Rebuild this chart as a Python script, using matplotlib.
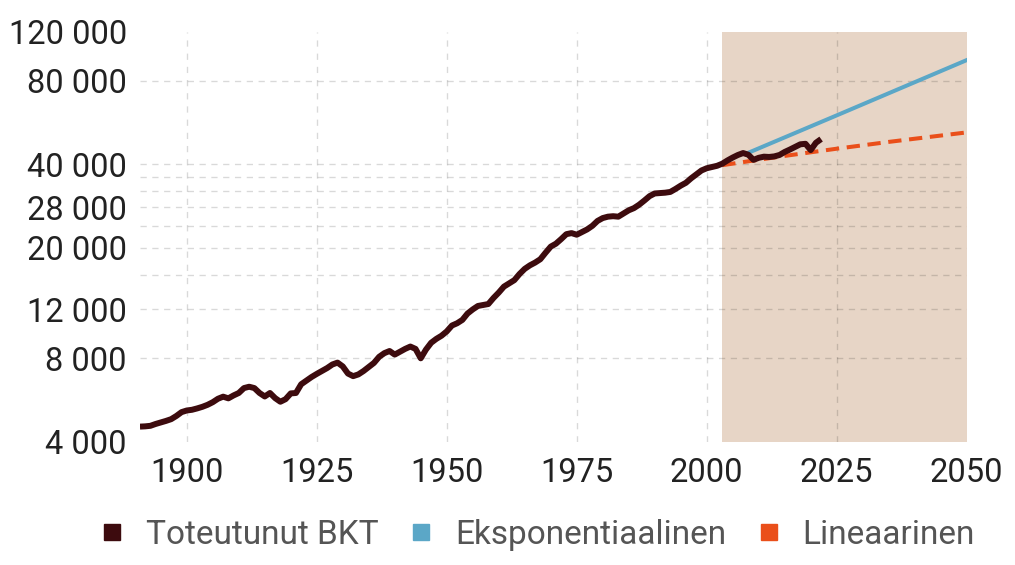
import matplotlib
matplotlib.use("Agg")
import matplotlib.pyplot as plt
from matplotlib.lines import Line2D
from matplotlib.ticker import FixedLocator, FuncFormatter

plt.rcParams['font.family'] = ['Roboto', 'DejaVu Sans']

# ---- data ----
years = list(range(1891, 2023))
gdp = [4540, 4550, 4570, 4640, 4700, 4760, 4830, 4960, 5120,
       5190, 5220, 5280, 5350, 5440, 5560, 5720, 5820, 5740, 5880,
       6000, 6250, 6320, 6250, 6000, 5830, 6000, 5750, 5580, 5700,
       5980, 6000, 6450, 6650, 6850, 7030, 7200, 7380, 7600, 7720,
       7480, 7050, 6900, 7000, 7200, 7450, 7700, 8100, 8350, 8500,
       8250, 8450, 8650, 8820, 8650, 8000, 8600, 9100, 9400, 9650,
       10000, 10500, 10700, 11000, 11600, 12000, 12350, 12450, 12550, 13200,
       13800, 14500, 14900, 15300, 16100, 16800, 17300, 17700, 18200, 19200,
       20200, 20700, 21500, 22400, 22600, 22300, 22800, 23300, 24000, 25000,
       25600, 25900, 26000, 25900, 26600, 27300, 27800, 28600, 29600, 30700,
       31400, 31500, 31600, 31800, 32600, 33500, 34300, 35600, 36800, 38000,
       38700, 39100, 39500, 40200, 41300, 42300, 43200, 43900, 43300, 41500,
       42200, 42600, 42500, 42700, 43200, 44300, 45200, 46200, 47200, 47400,
       45000, 47800, 49300]

exp_years = [2008, 2025, 2050]
exp_vals = [44000, 60000, 94900]

lin_years = [2003, 2015, 2025, 2035, 2050]
lin_vals = [39700, 42870, 45510, 48150, 52100]

shade_start, shade_end = 2003, 2050

x_ticks = [1900, 1925, 1950, 1975, 2000, 2025, 2050]
y_major = [4000, 8000, 12000, 20000, 28000, 40000, 80000, 120000]
y_minor = [16000, 24000, 32000, 36000]

labels = ['Toteutunut BKT', 'Eksponentiaalinen', 'Lineaarinen']
colors = ['#3d0b0e', '#5ba7c7', '#ea4f1a']
shade_color = '#e7d5c6'

# ---- figure ----
fig = plt.figure(figsize=(10.15, 5.65), dpi=100)
ax = fig.add_axes([0.1379, 0.2179, 0.9524 - 0.1379, 0.9437 - 0.2179])

ax.axvspan(shade_start, shade_end, color=shade_color, zorder=0.1, lw=0)

ax.plot(lin_years, lin_vals, color=colors[2], lw=2.9,
        linestyle=(0, (3.3, 1.9)), zorder=3, solid_capstyle='butt')
ax.plot(exp_years, exp_vals, color=colors[1], lw=2.9, zorder=3)
ax.plot(years, gdp, color=colors[0], lw=4.3, zorder=4,
        solid_joinstyle='round', solid_capstyle='butt')

ax.set_yscale('log')
ax.set_xlim(1891, 2050)
ax.set_ylim(4000, 120000)

ax.xaxis.set_major_locator(FixedLocator(x_ticks))
ax.yaxis.set_major_locator(FixedLocator(y_major))
ax.yaxis.set_minor_locator(FixedLocator(y_minor))
fmt = FuncFormatter(lambda v, p: f"{int(round(v)):,}".replace(',', ' '))
ax.yaxis.set_major_formatter(fmt)
ax.yaxis.set_minor_formatter(FuncFormatter(lambda v, p: ''))

ax.tick_params(axis='both', which='both', length=0, labelsize=23.5,
               labelcolor='#222222')
ax.tick_params(axis='y', pad=9.5)
ax.tick_params(axis='x', pad=11)

for s in ax.spines.values():
    s.set_visible(False)

ax.set_axisbelow(True)
ax.grid(True, which='both', axis='y', color='#000000', alpha=0.15, lw=1.0,
        linestyle=(0, (4.5, 4)))
ax.grid(True, which='major', axis='x', color='#000000', alpha=0.15, lw=1.0,
        linestyle=(0, (4.5, 5)))

# hide gridlines lying on the frame edges
ylines = ax.yaxis.get_gridlines()
ylines[0].set_visible(False)
ylines[-1].set_visible(False)
ax.xaxis.get_gridlines()[-1].set_visible(False)

handles = [Line2D([], [], marker='s', linestyle='none', markersize=11.5,
                  markerfacecolor=c, markeredgecolor=c) for c in colors]
fig.legend(handles, labels, loc='center', bbox_to_anchor=(0.529, 0.053),
           ncol=3, frameon=False, fontsize=24, labelcolor='#555555',
           handlelength=0.8, handletextpad=0.6, columnspacing=0.9,
           borderaxespad=0)

fig.savefig('out.png', dpi=100)
